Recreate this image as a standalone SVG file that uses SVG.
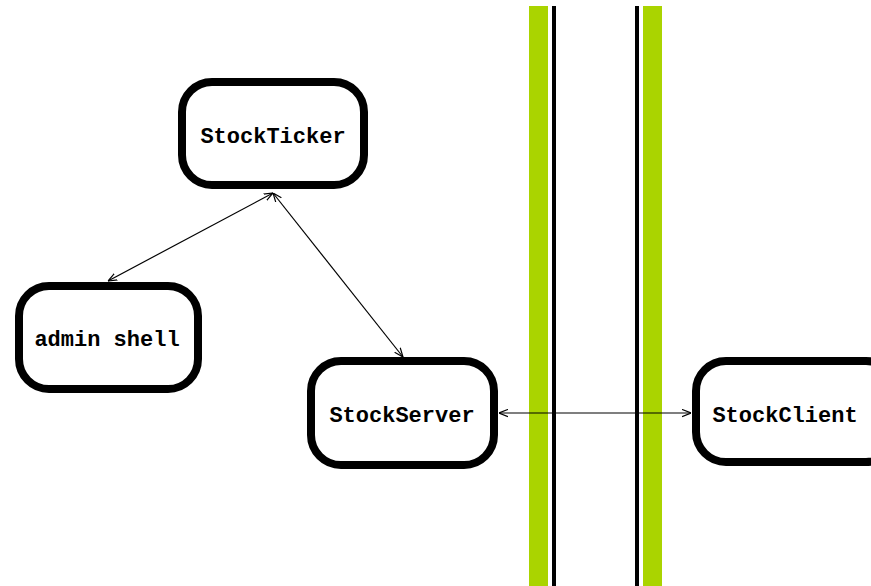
<svg xmlns="http://www.w3.org/2000/svg" width="871" height="586" viewBox="0 0 871 586">
<style>
.node rect{fill:#fff;stroke:#000;stroke-width:8}
.node text{font-family:"Liberation Mono","Courier New",monospace;font-weight:bold;font-size:22px;text-anchor:middle;fill:#000}
.conn line{stroke:#000;stroke-width:1.2;fill:none;marker-start:url(#ah);marker-end:url(#ah)}
.green{fill:#aad400}
.wall{fill:#000}
</style>
<defs>
<marker id="ah" viewBox="0 0 10 10" refX="10" refY="5" markerWidth="9" markerHeight="9" markerUnits="userSpaceOnUse" orient="auto-start-reverse">
<path d="M0,1 L10,5 L0,9" fill="none" stroke="#000" stroke-width="1.3"/>
</marker>
</defs>
<g id="walls">
<rect class="green" x="529" y="6" width="19" height="580"/>
<rect class="wall" x="552" y="6" width="4" height="580"/>
<rect class="wall" x="635" y="6" width="4" height="580"/>
<rect class="green" x="643" y="6" width="19" height="580"/>
</g>
<g class="conn" id="connectors">
<line x1="273" y1="193" x2="108" y2="281"/>
<line x1="273" y1="193" x2="403" y2="357"/>
<line x1="499" y1="413" x2="691" y2="413"/>
</g>
<g class="node" id="stockticker">
<rect x="182" y="82" width="182" height="103" rx="30"/>
<text x="273" y="143">StockTicker</text>
</g>
<g class="node" id="adminshell">
<rect x="19" y="286" width="179" height="103" rx="30"/>
<text x="107" y="346">admin shell</text>
</g>
<g class="node" id="stockserver">
<rect x="311" y="361" width="183" height="104" rx="30"/>
<text x="402" y="422">StockServer</text>
</g>
<g class="node" id="stockclient">
<rect x="696" y="361" width="200" height="101" rx="30"/>
<text x="785" y="422">StockClient</text>
</g>
</svg>
